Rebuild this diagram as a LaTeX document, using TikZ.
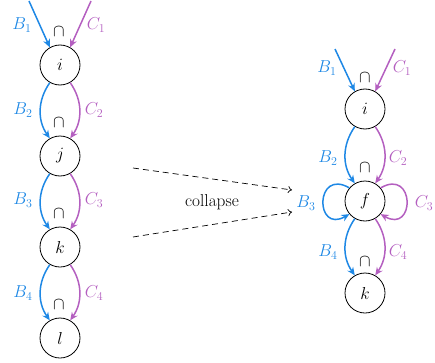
\documentclass[tikz,border=0pt]{standalone}
\usetikzlibrary{arrows.meta}
\definecolor{bblue}{RGB}{30,136,229}
\definecolor{cpurple}{RGB}{180,95,192}
\begin{document}
\begin{tikzpicture}[x=1pt,y=1pt,font=\fontsize{17.28}{21}\selectfont,
  st/.style={circle,draw,line width=0.8pt,minimum size=40pt,inner sep=0pt},
  bl/.style={draw=bblue,line width=1.5pt,-{Stealth[length=8pt,width=7pt]}},
  cp/.style={draw=cpurple,line width=1.5pt,-{Stealth[length=8pt,width=7pt]}},
  bt/.style={text=bblue},
  ct/.style={text=cpurple},
  dsh/.style={draw=black,line width=0.7pt,dash pattern=on 6pt off 4pt,-{To[length=4pt,width=7pt]}}]
\useasboundingbox (0,0) rectangle (435,362);
% left column
\node[st] (i) at (60,297) {$i$};
\node[st] (j) at (60,206) {$j$};
\node[st] (k) at (60,115) {$k$};
\node[st] (l) at (60,24) {$l$};
\coordinate (t1) at (29,361);
\coordinate (t2) at (91,361);
\draw[bl] (t1) -- (i.120);
\draw[cp] (t2) -- (i.60);
\draw[bl] (i.240) to[out=235,in=125] (j.120);
\draw[cp] (i.300) to[out=305,in=55] (j.60);
\draw[bl] (j.240) to[out=235,in=125] (k.120);
\draw[cp] (j.300) to[out=305,in=55] (k.60);
\draw[bl] (k.240) to[out=235,in=125] (l.120);
\draw[cp] (k.300) to[out=305,in=55] (l.60);
\node[bt] (lb1) at (22,337) {$B_1$};
\node[ct] (lc1) at (96,337) {$C_1$};
\node (lcap1) at (59,330) {$\cap$};
\node[bt] (lb2) at (23,252) {$B_2$};
\node[ct] (lc2) at (94,252) {$C_2$};
\node (lcap2) at (59,239) {$\cap$};
\node[bt] (lb3) at (23,162) {$B_3$};
\node[ct] (lc3) at (94,162) {$C_3$};
\node (lcap3) at (59,148) {$\cap$};
\node[bt] (lb4) at (23,69) {$B_4$};
\node[ct] (lc4) at (94,69) {$C_4$};
\node (lcap4) at (59,57) {$\cap$};
% right column
\node[st] (ri) at (365,253) {$i$};
\node[st] (f) at (365,161) {$f$};
\node[st] (rk) at (365,69) {$k$};
\coordinate (rt1) at (335,313);
\coordinate (rt2) at (395,313);
\draw[bl] (rt1) -- (ri.120);
\draw[cp] (rt2) -- (ri.60);
\draw[bl] (ri.240) to[out=235,in=125] (f.120);
\draw[cp] (ri.300) to[out=305,in=55] (f.60);
\draw[bl] (f.240) to[out=235,in=125] (rk.120);
\draw[cp] (f.300) to[out=305,in=55] (rk.60);
\draw[bl] (f.140) .. controls +(150:40) and +(210:40) .. (f.220);
\draw[cp] (f.40) .. controls +(30:40) and +(-30:40) .. (f.-40);
\node[bt] (rb1) at (327,294) {$B_1$};
\node[ct] (rc1) at (402,294) {$C_1$};
\node (rcap1) at (365,284) {$\cap$};
\node[bt] (rb2) at (328,204) {$B_2$};
\node[ct] (rc2) at (398,204) {$C_2$};
\node (rcap2) at (365,194) {$\cap$};
\node[bt] (rb3) at (306,159) {$B_3$};
\node[ct] (rc3) at (424,159) {$C_3$};
\node[bt] (rb4) at (328,110) {$B_4$};
\node[ct] (rc4) at (398,110) {$C_4$};
\node (rcap4) at (365,100) {$\cap$};
% collapse
\coordinate (s1) at (133,194);
\coordinate (e1) at (292,172);
\coordinate (s2) at (133,125);
\coordinate (e2) at (292,150);
\draw[dsh] (s1) -- (e1);
\draw[dsh] (s2) -- (e2);
\node (col) at (212,160) {collapse};
\end{tikzpicture}
\end{document}
